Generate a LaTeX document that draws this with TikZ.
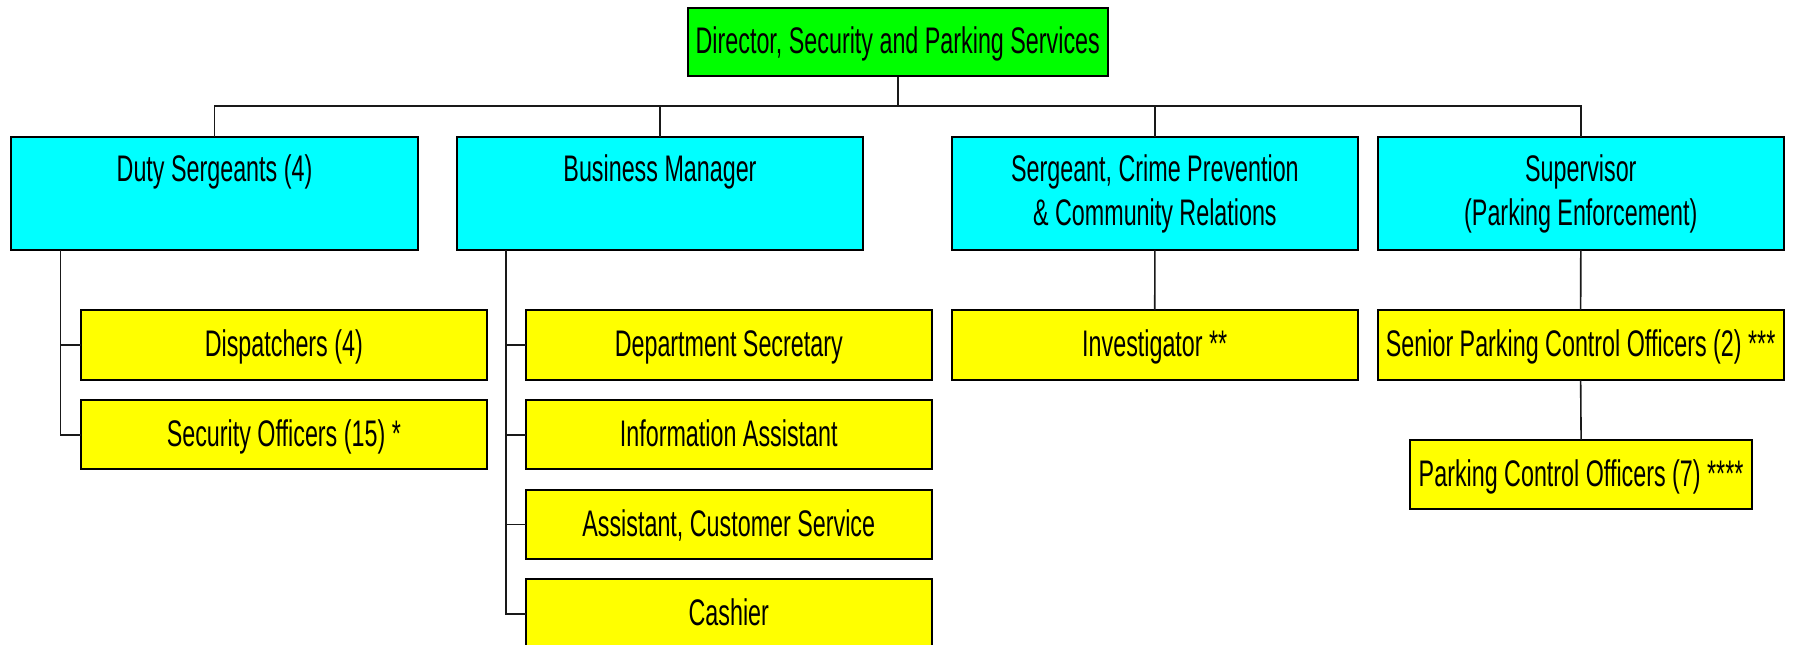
\documentclass[tikz,border=0pt]{standalone}
\usepackage{fontspec}
\newfontfamily\orgfont[FakeStretch=0.63]{Liberation Sans}
\definecolor{dirgreen}{HTML}{00FF00}
\definecolor{mgrcyan}{HTML}{00FFFF}
\definecolor{staffyellow}{HTML}{FFFF00}
\begin{document}
\begin{tikzpicture}[x=1pt,y=-1pt,
  box/.style={draw=black, line width=2pt, inner sep=0pt, anchor=north west,
              font=\orgfont\fontsize{37}{43.3}\selectfont,
              text height=28pt, text depth=4.6pt},
  dirbox/.style={box, fill=dirgreen, minimum width=420.5pt, minimum height=68.6pt},
  mgrbox/.style={box, fill=mgrcyan, minimum width=406.4pt, minimum height=112.7pt},
  staffbox/.style={box, fill=staffyellow, minimum width=406.1pt, minimum height=69.4pt},
  mgrtext/.style={anchor=base, inner sep=0pt, font=\orgfont\fontsize{37}{43.3}\selectfont},
  conn/.style={draw=black!90, line width=1.6pt, line cap=rect}]
\useasboundingbox (0,0) rectangle (1794,645);

% top of the chart
\node[dirbox] (dir) at (686.5,6.7) {Director, Security and Parking Services};

% second level
\node[mgrbox] (duty)  at (10.3,136)   {};
\node[mgrbox] (biz)   at (455.8,136)  {};
\node[mgrbox] (crime) at (950.7,136)  {};
\node[mgrbox] (sup)   at (1376.6,136) {};
\node[mgrtext] (duty-t)  at ([yshift=-45.7pt]duty.north)  {Duty Sergeants (4)};
\node[mgrtext] (biz-t)   at ([yshift=-45.7pt]biz.north)   {Business Manager};
\node[mgrtext] (crime-t) at ([yshift=-45.7pt]crime.north)
  {\begin{tabular}[t]{@{}c@{}}Sergeant, Crime Prevention\\ \& Community Relations\end{tabular}};
\node[mgrtext] (sup-t)   at ([yshift=-45.7pt]sup.north)
  {\begin{tabular}[t]{@{}c@{}}Supervisor\\ (Parking Enforcement)\end{tabular}};

% staff under the duty sergeants
\node[staffbox] (disp) at (79.8,309.3) {Dispatchers (4)};
\node[staffbox] (sec)  at (79.8,399)   {Security Officers (15) *};

% staff under the business manager
\node[staffbox] (dsec)  at (524.7,309.3) {Department Secretary};
\node[staffbox] (info)  at (524.7,399)   {Information Assistant};
\node[staffbox] (cust)  at (524.7,488.7) {Assistant, Customer Service};
\node[staffbox] (cash)  at (524.7,578.4) {Cashier};

% crime prevention and parking enforcement
\node[staffbox] (inv)  at (950.7,309.3)  {Investigator **};
\node[staffbox] (spco) at (1376.6,309.3) {Senior Parking Control Officers (2) ***};
\node[staffbox, minimum width=342.2pt] (pco) at (1409,439) {Parking Control Officers (7) ****};

% connectors: director to the second level
\coordinate (bus) at (0,106);
\draw[conn] (dir.south) -- (dir.south |- bus);
\draw[conn] (duty.north) -- (duty.north |- bus) -- (sup.north |- bus) -- (sup.north);
\draw[conn] (biz.north) -- (biz.north |- bus);
\draw[conn] (crime.north) -- (crime.north |- bus);

% side rails for the stacked staff boxes
\coordinate (dutyrail) at ([xshift=50pt]duty.south west);
\draw[conn] (dutyrail) |- (sec.west);
\draw[conn] (dutyrail |- disp.west) -- (disp.west);

\coordinate (bizrail) at ([xshift=50pt]biz.south west);
\draw[conn] (bizrail) |- (cash.west);
\draw[conn] (bizrail |- dsec.west) -- (dsec.west);
\draw[conn] (bizrail |- info.west) -- (info.west);
\draw[conn] (bizrail |- cust.west) -- (cust.west);

% direct drops
\draw[conn] (crime.south) -- (inv.north);
\draw[conn] (sup.south) -- (spco.north);
\draw[conn] (spco.south) -- (pco.north);
\end{tikzpicture}
\end{document}
